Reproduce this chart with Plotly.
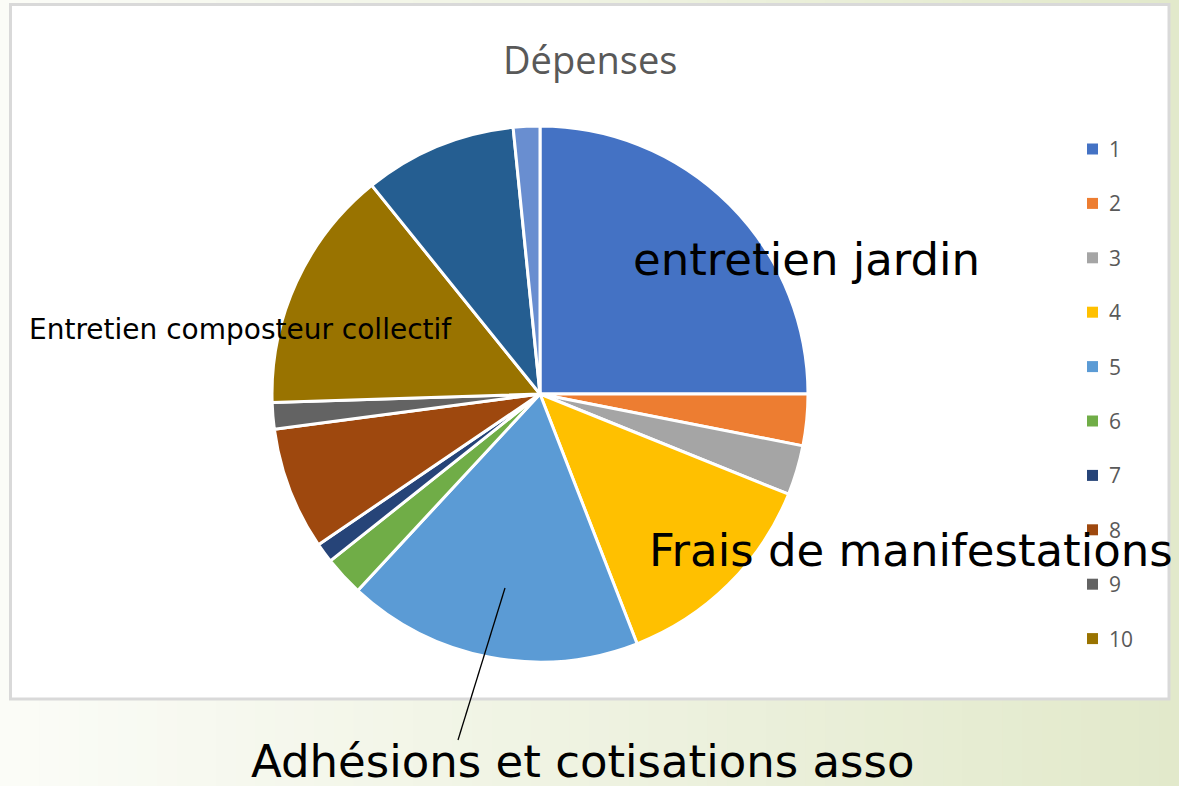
import plotly.graph_objects as go

W, H = 1179, 786

# Data (share of expenses, %)
labels = ["1", "2", "3", "4", "5", "6", "7", "8", "9", "10", "11", "12"]
values = [25.0, 3.1, 3.0, 13.0, 17.8, 2.4, 1.2, 7.4, 1.6, 14.7, 9.2, 1.6]
colors = ["#4472C4", "#ED7D31", "#A5A5A5", "#FFC000", "#5B9BD5", "#70AD47",
          "#264478", "#9E480E", "#636363", "#997300", "#255E91", "#698ED0"]
legend_labels = labels[:10]
title_text = "Dépenses"
callouts = ["entretien jardin", "Entretien composteur collectif",
            "Frais de manifestations", "Adhésions et cotisations asso"]


def px(x):
    return x / W


def py(y):
    return 1 - y / H


cx, cy, r = 540, 394, 268

fig = go.Figure()
fig.add_trace(go.Pie(
    labels=labels, values=values, sort=False, direction="clockwise", rotation=0,
    marker=dict(colors=colors, line=dict(color="white", width=3)),
    textinfo="none", hoverinfo="label+percent", showlegend=False,
    domain=dict(x=[px(cx - r), px(cx + r)], y=[py(cy + r), py(cy - r)]),
))

shapes = []
# background gradient (left near white -> right light green)
n = 60
c0 = (251, 252, 247)
c1 = (226, 233, 203)
for i in range(n):
    t = i / (n - 1)
    col = tuple(round(c0[k] + (c1[k] - c0[k]) * t) for k in range(3))
    shapes.append(dict(type="rect", xref="paper", yref="paper", layer="below",
                       x0=i / n, x1=(i + 1) / n + 0.002, y0=0, y1=1,
                       fillcolor="rgb(%d,%d,%d)" % col, line=dict(width=0)))
# chart frame
shapes.append(dict(type="rect", xref="paper", yref="paper", layer="below",
                   x0=px(10.5), x1=px(1169), y0=py(699), y1=py(4.5),
                   fillcolor="white", line=dict(color="#D9D9D9", width=3)))
# leader line
shapes.append(dict(type="line", xref="paper", yref="paper",
                   x0=px(505), y0=py(588), x1=px(458), y1=py(740),
                   line=dict(color="black", width=1.3)))

BIG = "DejaVu Sans"
annotations = [
    dict(text=title_text, x=px(590), y=py(59), font=dict(size=38, color="#595959",
         family="Open Sans"), showarrow=False, xanchor="center", yanchor="middle"),
    dict(text=callouts[0], x=px(631), y=py(260), font=dict(size=45, color="black",
         family=BIG), showarrow=False, xanchor="left", yanchor="middle"),
    dict(text=callouts[1], x=px(27), y=py(330), font=dict(size=28,
         color="black", family=BIG), showarrow=False, xanchor="left", yanchor="middle"),
    dict(text=callouts[2], x=px(647), y=py(550), font=dict(size=45,
         color="black", family=BIG), showarrow=False, xanchor="left", yanchor="middle"),
    dict(text=callouts[3], x=px(249), y=py(761), font=dict(size=45,
         color="black", family=BIG), showarrow=False, xanchor="left", yanchor="middle"),
]

# manual legend (only 1..10 visible in the original)
for i, lab in enumerate(legend_labels):
    yy = 149 + i * 54.4
    shapes.append(dict(type="rect", xref="paper", yref="paper",
                       x0=px(1087), x1=px(1098), y0=py(yy + 5.5), y1=py(yy - 5.5),
                       fillcolor=colors[i], line=dict(width=0)))
    annotations.append(dict(text=lab, x=px(1107), y=py(yy), showarrow=False,
                            xanchor="left", yanchor="middle",
                            font=dict(size=21, color="#595959", family="Open Sans")))

fig.update_layout(
    width=W, height=H, margin=dict(l=0, r=0, t=0, b=0),
    paper_bgcolor="white", plot_bgcolor="white",
    shapes=shapes, annotations=annotations, showlegend=False,
)

fig.write_html(
    "out.html",
    config={"displayModeBar": False},
    post_script="document.body.style.margin='0';document.body.style.overflow='hidden';",
)
